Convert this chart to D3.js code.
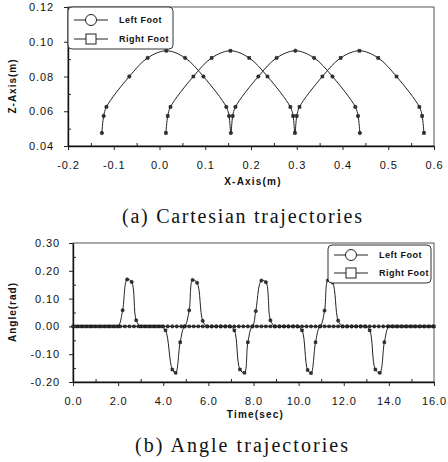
<!DOCTYPE html>
<html>
<head>
<meta charset="utf-8">
<script src="https://cdn.jsdelivr.net/npm/d3@7"></script>
<style>
body { margin: 0; background: #fff; }
svg { display: block; }
</style>
</head>
<body>
<div id="chart"></div>
<script>
// (a) cartesian trajectories, foot position X vs Z (m)
var leftX = [-0.126, -0.122, -0.116, -0.066, -0.026, 0.015, 0.056, 0.096, 0.146, 0.152, 0.156,
             0.160, 0.166, 0.216, 0.256, 0.297, 0.338, 0.378, 0.428, 0.434, 0.438];
var leftZ = [0.0475, 0.0573, 0.0625, 0.0800, 0.0907, 0.0948, 0.0907, 0.0800, 0.0625, 0.0573, 0.0475,
             0.0573, 0.0625, 0.0800, 0.0907, 0.0948, 0.0907, 0.0800, 0.0625, 0.0573, 0.0475];
var rightX = [0.014, 0.018, 0.024, 0.074, 0.114, 0.155, 0.196, 0.236, 0.286, 0.292, 0.296,
              0.300, 0.306, 0.356, 0.396, 0.437, 0.478, 0.518, 0.568, 0.574, 0.578];
var rightZ = [0.0475, 0.0573, 0.0625, 0.0800, 0.0907, 0.0948, 0.0907, 0.0800, 0.0625, 0.0573, 0.0475,
              0.0573, 0.0625, 0.0800, 0.0907, 0.0948, 0.0907, 0.0800, 0.0625, 0.0573, 0.0475];

// (b) angle trajectories, time (sec) vs angle (rad)
var leftT = [0.0, 0.2, 0.4, 0.6, 0.8, 1.0, 1.2, 1.4, 1.6, 1.8, 2.0,
             2.2, 2.4, 2.6, 2.8,
             3.0, 3.2, 3.4, 3.6, 3.8, 4.0, 4.2, 4.4, 4.6, 4.8, 4.95,
             5.15, 5.3, 5.5, 5.75,
             5.95, 6.15, 6.35, 6.55, 6.75, 6.95, 7.15, 7.35, 7.55, 7.75, 7.95,
             8.1, 8.35, 8.55, 8.75,
             8.95, 9.15, 9.35, 9.55, 9.75, 9.95, 10.15, 10.35, 10.55, 10.75, 10.95,
             11.15, 11.3, 11.5, 11.75,
             11.95, 12.15, 12.35, 12.55, 12.75, 12.95, 13.15, 13.35, 13.55, 13.75, 13.95,
             14.15, 14.35, 14.55, 14.75, 14.95, 15.15, 15.35, 15.55, 15.75, 15.95];
var leftA = [0, 0, 0, 0, 0, 0, 0, 0, 0, 0, 0,
             0.058, 0.169, 0.160, 0.022,
             0, 0, 0, 0, 0, 0, 0, 0, 0, 0, 0,
             0.058, 0.167, 0.157, 0.020,
             0, 0, 0, 0, 0, 0, 0, 0, 0, 0, 0,
             0.055, 0.165, 0.159, 0.022,
             0, 0, 0, 0, 0, 0, 0, 0, 0, 0, 0,
             0.057, 0.166, 0.158, 0.021,
             0, 0, 0, 0, 0, 0, 0, 0, 0, 0, 0,
             0, 0, 0, 0, 0, 0, 0, 0, 0, 0];
var rightT = [0.1, 0.3, 0.5, 0.7, 0.9, 1.1, 1.3, 1.5, 1.7, 1.9, 2.1, 2.3, 2.5, 2.7, 2.9,
              3.1, 3.3, 3.5, 3.7, 3.9,
              4.1, 4.4, 4.55, 4.75,
              4.95, 5.15, 5.35, 5.55, 5.75, 5.95, 6.15, 6.35, 6.55, 6.75, 6.95,
              7.15, 7.4, 7.6, 7.75,
              7.95, 8.15, 8.35, 8.55, 8.75, 8.95, 9.15, 9.35, 9.55, 9.75, 9.95,
              10.15, 10.4, 10.55, 10.75,
              10.95, 11.15, 11.35, 11.55, 11.75, 11.95, 12.15, 12.35, 12.55, 12.75, 12.95,
              13.15, 13.4, 13.6, 13.8,
              14.0, 14.2, 14.4, 14.6, 14.8, 15.0, 15.2, 15.4, 15.6, 15.8, 16.0];
var rightA = [0, 0, 0, 0, 0, 0, 0, 0, 0, 0, 0, 0, 0, 0, 0,
              0, 0, 0, 0, 0,
              -0.014, -0.155, -0.167, -0.057,
              0, 0, 0, 0, 0, 0, 0, 0, 0, 0, 0,
              -0.014, -0.155, -0.167, -0.057,
              0, 0, 0, 0, 0, 0, 0, 0, 0, 0, 0,
              -0.014, -0.157, -0.168, -0.057,
              0, 0, 0, 0, 0, 0, 0, 0, 0, 0, 0,
              -0.014, -0.155, -0.167, -0.057,
              0, 0, 0, 0, 0, 0, 0, 0, 0, 0, 0];

var seriesNames = ["Left Foot", "Right Foot"];

var xTicksA = [-0.2, -0.1, 0.0, 0.1, 0.2, 0.3, 0.4, 0.5, 0.6],
    xMinorA = [-0.15, -0.05, 0.05, 0.15, 0.25, 0.35, 0.45, 0.55],
    yTicksA = [0.04, 0.06, 0.08, 0.10, 0.12],
    yMinorA = [0.05, 0.07, 0.09, 0.11],
    xTicksB = [0, 2, 4, 6, 8, 10, 12, 14, 16],
    xMinorB = [1, 3, 5, 7, 9, 11, 13, 15],
    yTicksB = [-0.2, -0.1, 0.0, 0.1, 0.2, 0.3],
    yMinorB = [-0.15, -0.05, 0.05, 0.15, 0.25];

var W = 448, H = 462;
var sans = "'Liberation Sans', Arial, sans-serif",
    serif = "'Liberation Serif', 'Times New Roman', serif";

var svg = d3.select("#chart").append("svg")
    .attr("width", W)
    .attr("height", H)
    .style("background", "#fff");

function zip(xs, ys) {
    return xs.map(function(x, i) { return [x, ys[i]]; });
}

// plain hyphen instead of the unicode minus
function fmt(spec) {
    var f = d3.format(spec);
    return function(d) { return f(d).replace("\u2212", "-"); };
}

function drawAxes(x, y, opt) {
    var g = svg.append("g");
    var r = x.range(), b = y.range();

    // frame
    g.append("rect")
        .attr("x", r[0]).attr("y", b[1])
        .attr("width", r[1] - r[0]).attr("height", b[0] - b[1])
        .attr("fill", "none").attr("stroke", "#555").attr("stroke-width", 1);

    g.append("g")
        .attr("transform", "translate(0," + b[0] + ")")
        .call(d3.axisBottom(x).tickValues(opt.xTicks).tickFormat(fmt(opt.xFmt))
            .tickSize(4).tickSizeOuter(0).tickPadding(opt.xPad));
    g.append("g")
        .attr("transform", "translate(0," + b[0] + ")")
        .call(d3.axisBottom(x).tickValues(opt.xMinor).tickFormat("")
            .tickSize(-3).tickSizeOuter(0))
        .select(".domain").remove();

    g.append("g")
        .attr("transform", "translate(" + r[0] + ",0)")
        .call(d3.axisLeft(y).tickValues(opt.yTicks).tickFormat(fmt(opt.yFmt))
            .tickSize(4).tickSizeOuter(0).tickPadding(opt.yPad));
    g.append("g")
        .attr("transform", "translate(" + r[0] + ",0)")
        .call(d3.axisLeft(y).tickValues(opt.yMinor).tickFormat("")
            .tickSize(-3).tickSizeOuter(0))
        .select(".domain").remove();

    g.selectAll(".domain").attr("stroke", "#111").attr("stroke-width", 1.4);
    g.selectAll(".tick line").attr("stroke", "#222");
    g.selectAll(".tick text")
        .attr("font-family", sans)
        .attr("font-size", 11)
        .attr("letter-spacing", "0.9px")
        .attr("fill", "#111");

    g.append("text")
        .attr("x", (r[0] + r[1]) / 2 + 2)
        .attr("y", opt.xTitleY)
        .attr("text-anchor", "middle")
        .attr("font-family", sans).attr("font-weight", "bold")
        .attr("font-size", 10).attr("letter-spacing", "1.2px")
        .attr("fill", "#111")
        .text(opt.xTitle);

    g.append("text")
        .attr("transform", "translate(16," + opt.yTitleY + ") rotate(-90)")
        .attr("text-anchor", "middle")
        .attr("font-family", sans).attr("font-weight", "bold")
        .attr("font-size", 10).attr("letter-spacing", "1px")
        .attr("fill", "#111")
        .text(opt.yTitle);
}

function drawSeries(x, y, pts, shape, size) {
    var line = d3.line()
        .x(function(d) { return x(d[0]); })
        .y(function(d) { return y(d[1]); })
        .curve(d3.curveCatmullRom.alpha(0.5));

    svg.append("path")
        .datum(pts)
        .attr("d", line)
        .attr("fill", "none")
        .attr("stroke", "#222")
        .attr("stroke-width", 1);

    var sym = d3.symbol().type(shape === "circle" ? d3.symbolCircle : d3.symbolSquare).size(size);
    svg.append("g").selectAll("path")
        .data(pts)
        .enter().append("path")
        .attr("transform", function(d) { return "translate(" + x(d[0]) + "," + y(d[1]) + ")"; })
        .attr("d", sym)
        .attr("fill", "#333")
        .attr("stroke", "#111")
        .attr("stroke-width", 0.6);
}

function drawLegend(x0, y0, w, h, rows) {
    var g = svg.append("g");
    g.append("rect")
        .attr("x", x0).attr("y", y0)
        .attr("width", w).attr("height", h)
        .attr("rx", 4)
        .attr("fill", "#fff").attr("stroke", "#333").attr("stroke-width", 1);
    seriesNames.forEach(function(name, i) {
        var cy = rows[i];
        g.append("line")
            .attr("x1", x0 + 6).attr("x2", x0 + 40)
            .attr("y1", cy).attr("y2", cy)
            .attr("stroke", "#222");
        if (i === 0) {
            g.append("circle")
                .attr("cx", x0 + 23).attr("cy", cy).attr("r", 5.5)
                .attr("fill", "#fff").attr("stroke", "#222");
        } else {
            g.append("rect")
                .attr("x", x0 + 18).attr("y", cy - 5)
                .attr("width", 10).attr("height", 10)
                .attr("fill", "#fff").attr("stroke", "#222");
        }
        g.append("text")
            .attr("x", x0 + 51).attr("y", cy)
            .attr("dy", "0.35em")
            .attr("font-family", sans).attr("font-weight", "bold")
            .attr("font-size", 9).attr("letter-spacing", "0.5px")
            .attr("fill", "#111")
            .text(name);
    });
}

// ---- (a) Cartesian trajectories
var xA = d3.scaleLinear().domain([-0.2, 0.6]).range([68, 434]),
    yA = d3.scaleLinear().domain([0.04, 0.12]).range([146, 7]);

drawAxes(xA, yA, {
    xTicks: xTicksA, xMinor: xMinorA, xFmt: ".1f", xPad: 11,
    yTicks: yTicksA, yMinor: yMinorA, yFmt: ".2f", yPad: 10,
    xTitle: "X-Axis(m)", xTitleY: 185,
    yTitle: "Z-Axis(m)", yTitleY: 86
});
drawSeries(xA, yA, zip(leftX, leftZ), "circle", 9);
drawSeries(xA, yA, zip(rightX, rightZ), "square", 8);
drawLegend(68, 7, 105, 42, [20, 39]);

// ---- (b) Angle trajectories
var xB = d3.scaleLinear().domain([0, 16]).range([73, 434]),
    yB = d3.scaleLinear().domain([-0.2, 0.3]).range([382, 243]);

drawAxes(xB, yB, {
    xTicks: xTicksB, xMinor: xMinorB, xFmt: ".1f", xPad: 11,
    yTicks: yTicksB, yMinor: yMinorB, yFmt: ".2f", yPad: 9,
    xTitle: "Time(sec)", xTitleY: 418,
    yTitle: "Angle(rad)", yTitleY: 312
});
drawSeries(xB, yB, zip(leftT, leftA), "circle", 8);
drawSeries(xB, yB, zip(rightT, rightA), "square", 7);
drawLegend(328, 245, 103, 38, [255, 273]);

// captions
svg.append("text")
    .attr("x", 122).attr("y", 223)
    .attr("font-family", serif).attr("font-size", 20)
    .attr("textLength", 240).attr("lengthAdjust", "spacing")
    .attr("fill", "#111")
    .text("(a)  Cartesian  trajectories");

svg.append("text")
    .attr("x", 135).attr("y", 452)
    .attr("font-family", serif).attr("font-size", 20)
    .attr("textLength", 213).attr("lengthAdjust", "spacing")
    .attr("fill", "#111")
    .text("(b)  Angle  trajectories");
</script>
</body>
</html>
